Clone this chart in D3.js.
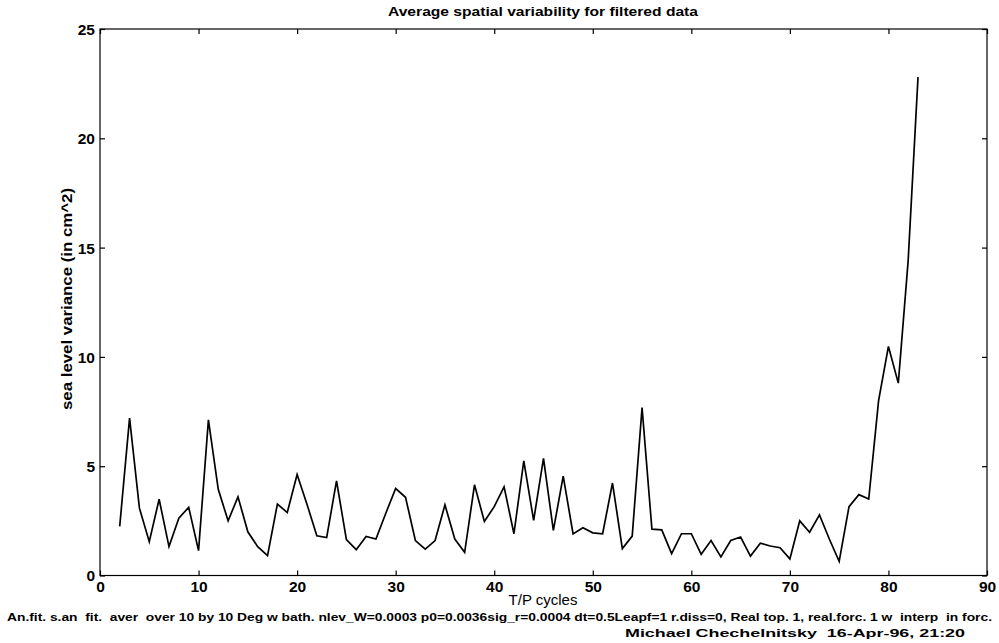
<!DOCTYPE html>
<html><head><meta charset="utf-8">
<script src="https://cdn.jsdelivr.net/npm/d3@7"></script>
<style>body{margin:0;background:#fff}svg{display:block}text{white-space:pre}</style>
</head><body>
<script>
const cycles = d3.range(2, 84);
const variance = [2.25,7.2,3.08,1.55,3.49,1.32,2.62,3.12,1.14,7.12,
3.94,2.5,3.6,2.0,1.32,0.91,3.27,2.88,4.62,3.26,
1.82,1.74,4.33,1.64,1.18,1.79,1.67,2.85,3.98,3.58,
1.6,1.21,1.6,3.23,1.67,1.06,4.15,2.47,3.15,4.06,
1.91,5.24,2.52,5.36,2.06,4.55,1.9,2.18,1.95,1.91,
4.23,1.23,1.8,7.68,2.12,2.09,1.0,1.91,1.91,0.97,
1.6,0.85,1.6,1.76,0.89,1.48,1.35,1.27,0.76,2.5,
1.98,2.77,1.67,0.65,3.15,3.7,3.5,8.0,10.48,8.8,
14.4,22.8];
const xTicks = [0,10,20,30,40,50,60,70,80,90];
const yTicks = [0,5,10,15,20,25];
const titleText = "Average spatial variability for filtered data";
const xLabel = "T/P cycles";
const yLabel = "sea level variance (in cm^2)";
const footer1 = "An.fit. s.an  fit.  aver  over 10 by 10 Deg w bath. nlev_W=0.0003 p0=0.0036sig_r=0.0004 dt=0.5Leapf=1 r.diss=0, Real top. 1, real.forc. 1 w  interp  in forc.";
const footer2 = "Michael Chechelnitsky  16-Apr-96, 21:20";

const W = 999, H = 643;
const L = 100, R = 987, T = 29, B = 575.5;
const svg = d3.select("body").append("svg").attr("width", W).attr("height", H);
const x = d3.scaleLinear().domain([0, 90]).range([L, R]);
const y = d3.scaleLinear().domain([0, 25]).range([B, T]);
const font = "'Liberation Sans', Arial, Helvetica, sans-serif";
const tl = 5;

svg.append("rect").attr("x", L).attr("y", T).attr("width", R - L).attr("height", B - T)
  .attr("fill", "none").attr("stroke", "#000").attr("stroke-width", 1.2);

const gx = svg.append("g").attr("transform", `translate(0,${B})`)
  .call(d3.axisBottom(x).tickValues(xTicks).tickSize(-tl).tickPadding(5).tickFormat(d3.format("d")));
const gxt = svg.append("g").attr("transform", `translate(0,${T})`)
  .call(d3.axisTop(x).tickValues(xTicks).tickSize(-tl).tickFormat(""));
const gy = svg.append("g").attr("transform", `translate(${L},0)`)
  .call(d3.axisLeft(y).tickValues(yTicks).tickSize(-tl).tickPadding(5).tickFormat(d3.format("d")));
const gyr = svg.append("g").attr("transform", `translate(${R},0)`)
  .call(d3.axisRight(y).tickValues(yTicks).tickSize(-tl).tickFormat(""));
[gx, gxt, gy, gyr].forEach(g => {
  g.select(".domain").remove();
  g.selectAll("line").attr("stroke", "#000").attr("stroke-width", 1.2);
  g.selectAll("text").attr("fill", "#000").style("font-family", font)
    .style("font-size", "15.5px").style("font-weight", "bold");
});
gx.selectAll("text").attr("dy", "0.72em");
gy.selectAll("text").attr("dy", "0.35em");

svg.append("path").datum(cycles.map((c, i) => [c, variance[i]]))
  .attr("d", d3.line().x(d => x(d[0])).y(d => y(d[1])))
  .attr("fill", "none").attr("stroke", "#000").attr("stroke-width", 1.7)
  .attr("stroke-linejoin", "miter");

svg.append("text").attr("x", 543).attr("y", 16).attr("text-anchor", "middle")
  .attr("textLength", 310).attr("lengthAdjust", "spacingAndGlyphs")
  .style("font-family", font).style("font-size", "12.5px").style("font-weight", "bold").text(titleText);
svg.append("text").attr("x", 543).attr("y", 605).attr("text-anchor", "middle")
  .style("font-family", font).style("font-size", "15px").style("font-weight", "500").text(xLabel);
svg.append("text").attr("transform", `translate(72,299) rotate(-90)`).attr("text-anchor", "middle")
  .attr("textLength", 222).attr("lengthAdjust", "spacingAndGlyphs")
  .style("font-family", font).style("font-size", "14px").style("font-weight", "bold").text(yLabel);
svg.append("text").attr("x", 7).attr("y", 621)
  .attr("textLength", 985).attr("lengthAdjust", "spacingAndGlyphs")
  .style("font-family", font).style("font-size", "11px").style("font-weight", "bold").text(footer1);
svg.append("text").attr("x", 625).attr("y", 637)
  .attr("textLength", 340).attr("lengthAdjust", "spacingAndGlyphs")
  .style("font-family", font).style("font-size", "11px").style("font-weight", "bold").text(footer2);
</script>
</body></html>
